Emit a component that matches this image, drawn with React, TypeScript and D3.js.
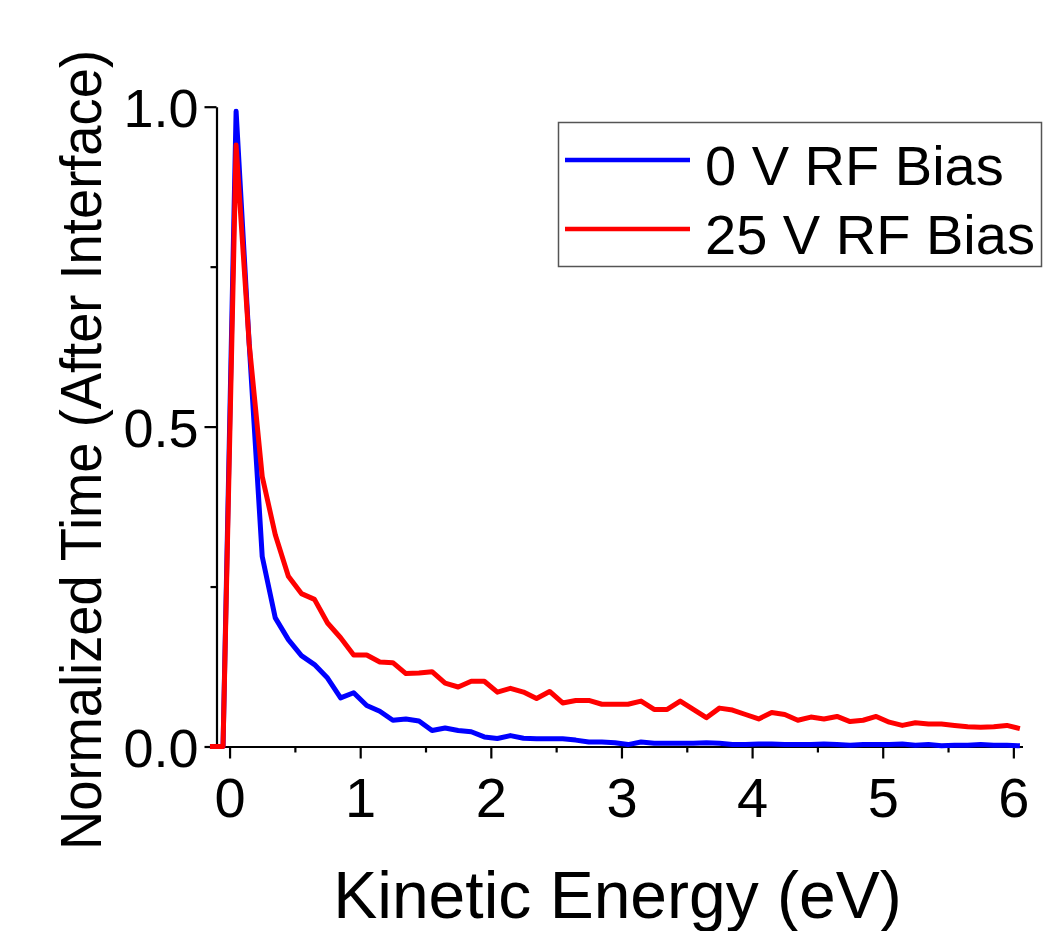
import React from 'react';
import { select, scaleLinear, line, axisBottom, axisLeft } from 'd3';

// kinetic energy bins (eV)
const energy = [
    -0.15, -0.05, 0.05, 0.15, 0.25, 0.35, 0.45, 0.55, 0.65, 0.75, 0.85, 0.95,
    1.05, 1.15, 1.25, 1.35, 1.45, 1.55, 1.65, 1.75, 1.85, 1.95,
    2.05, 2.15, 2.25, 2.35, 2.45, 2.55, 2.65, 2.75, 2.85, 2.95,
    3.05, 3.15, 3.25, 3.35, 3.45, 3.55, 3.65, 3.75, 3.85, 3.95,
    4.05, 4.15, 4.25, 4.35, 4.45, 4.55, 4.65, 4.75, 4.85, 4.95,
    5.05, 5.15, 5.25, 5.35, 5.45, 5.55, 5.65, 5.75, 5.85, 5.95, 6.05,
];

const bias0 = [
    0, 0, 0.993, 0.63, 0.297, 0.201, 0.167, 0.142, 0.128, 0.107, 0.076, 0.084,
    0.064, 0.055, 0.041, 0.043, 0.040, 0.025, 0.029, 0.025, 0.023, 0.015,
    0.0125, 0.017, 0.013, 0.012, 0.012, 0.012, 0.010, 0.007, 0.007, 0.006,
    0.003, 0.007, 0.005, 0.005, 0.005, 0.005, 0.006, 0.005, 0.003, 0.003,
    0.004, 0.004, 0.003, 0.003, 0.003, 0.004, 0.003, 0.002, 0.003, 0.003,
    0.003, 0.004, 0.002, 0.003, 0.001, 0.002, 0.002, 0.003, 0.002, 0.002, 0.001,
];

const bias25 = [
    0, 0, 0.94, 0.63, 0.422, 0.331, 0.266, 0.239, 0.23, 0.193, 0.17, 0.143,
    0.143, 0.132, 0.131, 0.114, 0.115, 0.117, 0.099, 0.093, 0.102, 0.102,
    0.085, 0.091, 0.085, 0.075, 0.086, 0.068, 0.072, 0.072, 0.066, 0.066,
    0.066, 0.071, 0.058, 0.058, 0.071, 0.058, 0.045, 0.060, 0.057, 0.050,
    0.043, 0.053, 0.050, 0.041, 0.046, 0.043, 0.047, 0.039, 0.041, 0.047,
    0.038, 0.033, 0.037, 0.035, 0.035, 0.033, 0.031, 0.030, 0.031, 0.033, 0.028,
];

const seriesNames = ['0 V RF Bias', '25 V RF Bias'];
const seriesColors = ['#0000ff', '#ff0000'];
const xTicks = [0, 1, 2, 3, 4, 5, 6];
const xMinor = [0.5, 1.5, 2.5, 3.5, 4.5, 5.5];
const yTicks = [0, 0.5, 1];
const yMinor = [0.25, 0.75];

const W = 1044;
const H = 931;
const FONT = '"Liberation Sans", Arial, sans-serif';

class Chart extends React.Component {
    node: SVGSVGElement | null = null;

    componentDidMount() {
        this.draw();
    }

    draw() {
        const svg = select(this.node);
        svg.selectAll('*').remove();

        const x = scaleLinear().domain([-0.1, 6.07]).range([216.5, 1022.5]);
        const y = scaleLinear().domain([0, 1]).range([746.5, 106.7]);

        // axes
        const gx = svg.append('g').attr('transform', `translate(0,${y(0)})`);
        gx.call(axisBottom(x).tickValues(xTicks).tickSize(12).tickSizeOuter(0).tickFormat(d => String(d)));
        gx.append('g').call(axisBottom(x).tickValues(xMinor).tickSize(6).tickFormat(() => ''))
            .select('.domain').remove();

        const gy = svg.append('g').attr('transform', `translate(${x(-0.1)},0)`);
        gy.call(axisLeft(y).tickValues(yTicks).tickSize(12).tickSizeOuter(0).tickFormat(d => Number(d).toFixed(1)));
        gy.append('g').call(axisLeft(y).tickValues(yMinor).tickSize(6).tickFormat(() => ''))
            .select('.domain').remove();

        svg.selectAll('.domain').attr('stroke', '#000').attr('stroke-width', 2.2);
        svg.selectAll('.tick line').attr('stroke', '#000').attr('stroke-width', 2.2);

        gx.selectAll('.tick text')
            .attr('font-family', FONT).attr('font-size', 56).attr('fill', '#000')
            .attr('dy', null).attr('y', 70);
        gy.selectAll('.tick text')
            .attr('font-family', FONT).attr('font-size', 54).attr('fill', '#000')
            .attr('dy', null).attr('x', -18).attr('y', 20);

        // series
        const series = [bias0, bias25];
        const path = line<number>()
            .x((d, i) => x(energy[i]))
            .y(d => y(d));

        series.forEach((vals, k) => {
            svg.append('path')
                .datum(vals)
                .attr('d', path)
                .attr('fill', 'none')
                .attr('stroke', seriesColors[k])
                .attr('stroke-width', 5)
                .attr('stroke-linejoin', 'round');
        });

        // axis titles
        svg.append('text')
            .attr('x', 617.5).attr('y', 918)
            .attr('text-anchor', 'middle')
            .attr('font-family', FONT).attr('font-size', 66)
            .text('Kinetic Energy (eV)');

        svg.append('text')
            .attr('transform', 'translate(101,450) rotate(-90)')
            .attr('text-anchor', 'middle')
            .attr('font-family', FONT).attr('font-size', 58)
            .attr('textLength', 800).attr('lengthAdjust', 'spacingAndGlyphs')
            .text('Normalized Time (After Interface)');

        // legend
        const lg = svg.append('g');
        lg.append('rect')
            .attr('x', 558.5).attr('y', 122.5)
            .attr('width', 483).attr('height', 144)
            .attr('fill', '#fff').attr('stroke', '#555').attr('stroke-width', 1.5);
        seriesNames.forEach((name, k) => {
            const ly = 160 + k * 69;
            lg.append('line')
                .attr('x1', 565).attr('x2', 690)
                .attr('y1', ly).attr('y2', ly)
                .attr('stroke', seriesColors[k]).attr('stroke-width', 4.5);
            lg.append('text')
                .attr('x', 705).attr('y', ly + 24.5)
                .attr('font-family', FONT).attr('font-size', 56)
                .text(name);
        });
    }

    componentDidUpdate() {
        this.draw();
    }

    render() {
        return (
            <svg
                width={W}
                height={H}
                style={{ position: 'absolute', left: 0, top: 0, background: '#fff' }}
                ref={node => { this.node = node; }}
            />
        );
    }
}

export default function App() {
    return <Chart />;
}
